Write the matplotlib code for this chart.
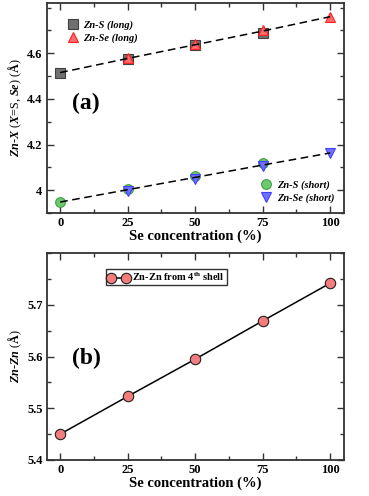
import matplotlib
matplotlib.use('Agg')
import matplotlib.pyplot as plt
from matplotlib.ticker import MultipleLocator

# data
conc = [0, 25, 50, 75, 100]

zns_long_x = [0, 25, 50, 75]
zns_long = [4.515, 4.575, 4.635, 4.69]
znse_long_x = [25, 50, 75, 100]
znse_long = [4.58, 4.64, 4.70, 4.76]
long_fit = [4.515, 4.577, 4.637, 4.697, 4.76]

zns_short_x = [0, 25, 50, 75]
zns_short = [3.948, 4.003, 4.063, 4.12]
znse_short_x = [25, 50, 75, 100]
znse_short = [3.995, 4.05, 4.105, 4.163]
short_fit = [3.948, 4.002, 4.056, 4.11, 4.163]

znzn = [5.45, 5.523, 5.595, 5.669, 5.742]

plt.rcParams['font.family'] = ['Liberation Serif', 'DejaVu Serif']
plt.rcParams['font.weight'] = 'bold'
plt.rcParams['mathtext.fontset'] = 'custom'
plt.rcParams['mathtext.rm'] = 'Liberation Serif:bold'
plt.rcParams['mathtext.it'] = 'Liberation Serif:bold:italic'

fig = plt.figure(figsize=(3.69, 4.96), dpi=100)
ax1 = fig.add_axes([0.1265, 0.5706, 0.805, 0.4234])
ax2 = fig.add_axes([0.1265, 0.0726, 0.805, 0.417])


def style(ax):
    for s in ax.spines.values():
        s.set_linewidth(1.3)
        s.set_color('#333333')
    ax.xaxis.set_major_locator(MultipleLocator(25))
    ax.xaxis.set_minor_locator(MultipleLocator(12.5))
    ax.tick_params(which='both', direction='in', top=True, right=True,
                   labelsize=9, width=1, color='#333333', pad=3)
    ax.tick_params(which='major', length=5)
    ax.tick_params(which='minor', length=3)
    for lb in ax.get_xticklabels() + ax.get_yticklabels():
        lb.set_fontweight('bold')
    ax.set_xlim(-5, 105)
    ax.set_xlabel('Se concentration (%)', fontsize=10.5, fontweight='bold', labelpad=0)


# ---- (a) ----
ax1.plot(conc, long_fit, '--', color='black', lw=1.1, dashes=(5, 3), zorder=3)
ax1.plot(conc, short_fit, '--', color='black', lw=1.1, dashes=(5, 3), zorder=3)
h1, = ax1.plot(zns_long_x, zns_long, 's', ms=6.5, mfc='#707070', mec='#404040', mew=0.8,
               ls='none', label='Zn-S (long)', zorder=2)
h2, = ax1.plot(znse_long_x, znse_long, '^', ms=7, mfc='#ff6a6a', mec='#ff2020', mew=0.8,
               ls='none', label='Zn-Se (long)', zorder=2)
h3, = ax1.plot(zns_short_x, zns_short, 'o', ms=7, mfc='#70c870', mec='#40a040', mew=0.8,
               ls='none', label='Zn-S (short)', zorder=2)
h4, = ax1.plot(znse_short_x, znse_short, 'v', ms=7, mfc='#7070ff', mec='#4040ff', mew=0.8,
               ls='none', label='Zn-Se (short)', zorder=2)
ax1.set_ylim(3.9, 4.82)
ax1.yaxis.set_minor_locator(MultipleLocator(0.1))
ax1.set_yticks([4.0, 4.2, 4.4, 4.6])
ax1.set_yticklabels(['4', '4.2', '4.4', '4.6'])
style(ax1)
ax1.set_ylabel('$Zn$-$X$ ($X$=S, $Se$) ($\\mathrm{\\AA}$)', fontsize=8.7, labelpad=2)
leg1 = ax1.legend(handles=[h1, h2], loc='upper left', bbox_to_anchor=(0.035, 0.96),
                  frameon=False, handletextpad=0.4, handlelength=1.2,
                  labelspacing=0.25, prop={'size': 7.5, 'style': 'italic', 'weight': 'bold'})
ax1.add_artist(leg1)
ax1.legend(handles=[h3, h4], loc='lower right', bbox_to_anchor=(1.0, 0.005),
           frameon=False, handletextpad=0.4, handlelength=1.2,
           labelspacing=0.25, prop={'size': 7.5, 'style': 'italic', 'weight': 'bold'})
ax1.text(0.085, 0.52, '(a)', transform=ax1.transAxes, fontsize=17,
         fontweight='bold', va='center', ha='left')

# ---- (b) ----
ax2.plot(conc, znzn, '-o', color='black', lw=1.1, ms=7.5, mfc='#f47c7c', mec='#202020',
         mew=0.8, label='Zn-Zn from 4$^{\\mathrm{th}}$ shell')
ax2.set_ylim(5.4, 5.8)
ax2.yaxis.set_minor_locator(MultipleLocator(0.05))
ax2.set_yticks([5.4, 5.5, 5.6, 5.7])
style(ax2)
ax2.set_ylabel('$Zn$-$Zn$ ($\\mathrm{\\AA}$)', fontsize=8.7, labelpad=2)
ax2.legend(loc='upper left', bbox_to_anchor=(0.19, 0.94), frameon=True, fancybox=False,
           edgecolor='black', handletextpad=0.3, handlelength=2.0, numpoints=2,
           borderpad=0.2, borderaxespad=0.3, prop={'size': 7.5, 'weight': 'bold'})
ax2.text(0.085, 0.49, '(b)', transform=ax2.transAxes, fontsize=17,
         fontweight='bold', va='center', ha='left')

fig.savefig('out.png', dpi=100)
